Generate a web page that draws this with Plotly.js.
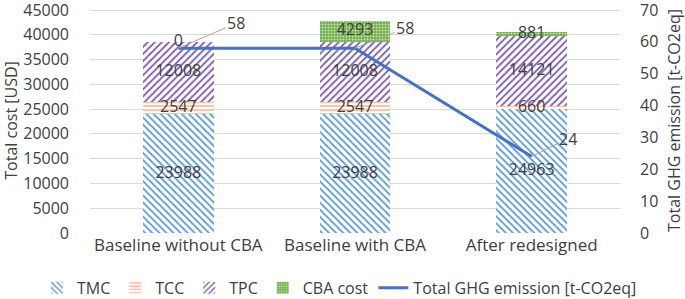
<!DOCTYPE html>
<html>
<head>
<meta charset="utf-8">
<script src="https://cdn.plot.ly/plotly-3.0.1.min.js"></script>
<style>html,body{margin:0;padding:0;background:#fff;}#chart{width:685px;height:299px;}</style>
</head>
<body>
<div id="chart"></div>
<script>
const categories = ["Baseline without CBA", "Baseline with CBA", "After redesigned"];
const tmc = [23988, 23988, 24963];
const tcc = [2547, 2547, 660];
const tpc = [12008, 12008, 14121];
const cba = [0, 4293, 881];
const ghg = [58, 58, 24];

const FONT = "Open Sans, Liberation Sans, sans-serif";
const TXT = "#404040";
const FS = 16;

function barTrace(name, vals, color, shape, extra) {
  return {
    type: "bar", name: name, x: categories, y: vals,
    marker: {color: color, line: {width: 0},
      pattern: Object.assign({shape: shape, fgcolor: color, bgcolor: "#ffffff", size: 5, solidity: 0.35}, extra || {})},
    hoverinfo: "skip"
  };
}

const segs = [tmc, tcc, tpc, cba];
const labelY = [], labelX = [], labelT = [];
for (let i = 0; i < categories.length; i++) {
  let base = 0;
  for (const s of segs) {
    labelX.push(categories[i]);
    labelY.push(base + s[i] / 2);
    labelT.push(String(s[i]));
    base += s[i];
  }
}

const traces = [
  barTrace("TMC", tmc, "#5B9BD5", "\\"),
  barTrace("TCC", tcc, "#F4A06A", "-", {size: 4, solidity: 0.3}),
  barTrace("TPC", tpc, "#7B5BB5", "/"),
  barTrace("CBA cost", cba, "#70AD47", ".", {fgcolor: "#C9E6B5", bgcolor: "#70AD47", size: 3, solidity: 0.35}),
  {type: "scatter", mode: "lines", name: "Total GHG emission [t-CO2eq]", x: categories, y: ghg, yaxis: "y2",
   line: {color: "#4472C4", width: 3}, hoverinfo: "skip"},
  {type: "scatter", mode: "text", x: labelX, y: labelY, text: labelT, showlegend: false,
   textfont: {family: FONT, size: FS, color: TXT}, cliponaxis: false, hoverinfo: "skip"}
];

const offsets = [[58, -25], [50, -20], [36, -18]];
const annotations = ghg.map((v, i) => ({
  x: categories[i], y: v, xref: "x", yref: "y2", text: String(v),
  showarrow: true, arrowhead: 0, arrowwidth: 1, arrowcolor: "#A6A6A6",
  ax: offsets[i][0], ay: offsets[i][1], font: {family: FONT, size: FS, color: TXT}
}));

const layout = {
  width: 685, height: 299,
  margin: {l: 90, r: 65, t: 8, b: 66, autoexpand: false},
  barmode: "stack", bargap: 0.6,
  paper_bgcolor: "#fff", plot_bgcolor: "#fff",
  font: {family: FONT, size: FS, color: TXT},
  showlegend: true,
  legend: {orientation: "h", x: -0.1, xanchor: "left", y: -0.168, yanchor: "top",
    font: {family: FONT, size: FS, color: TXT}, traceorder: "normal", itemwidth: 30, tracegroupgap: 0},
  xaxis: {type: "category", showgrid: false, zeroline: false, showline: false, ticks: "",
    tickfont: {family: FONT, size: 17, color: TXT}, automargin: false},
  yaxis: {range: [0, 45403.6], dtick: 5000, tick0: 0, showgrid: true, gridcolor: "#D9D9D9", gridwidth: 1,
    zeroline: false, showline: false, ticks: "", tickformat: "d", automargin: false, ticklabelstandoff: 20,
    ticklabeloverflow: "allow", tickfont: {family: FONT, size: FS, color: TXT},
    title: {text: "Total cost [USD]", font: {family: FONT, size: FS, color: TXT}, standoff: 12}},
  yaxis2: {range: [0, 70.628], dtick: 10, tick0: 0, overlaying: "y", side: "right", showgrid: false,
    zeroline: false, showline: false, ticks: "", automargin: false, ticklabelstandoff: 19,
    ticklabeloverflow: "allow", tickfont: {family: FONT, size: FS, color: TXT},
    title: {text: "Total GHG emission [t-CO2eq]", font: {family: FONT, size: FS, color: TXT}, standoff: 16}},
  annotations: annotations
};

Plotly.newPlot("chart", traces, layout, {displayModeBar: false, staticPlot: true});
</script>
</body>
</html>
